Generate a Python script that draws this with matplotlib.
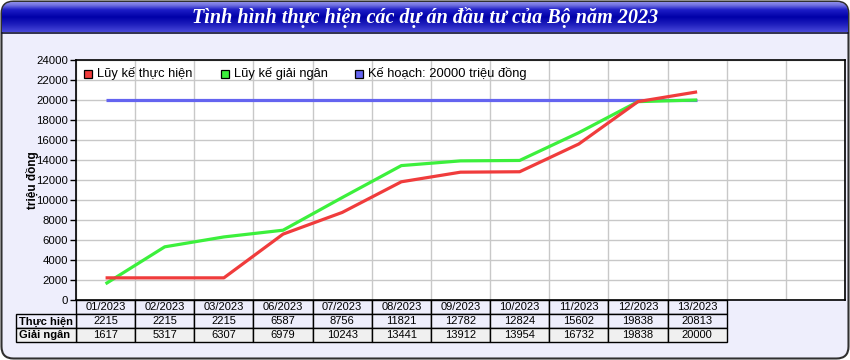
import numpy as np
import matplotlib
matplotlib.use("Agg")
import matplotlib.pyplot as plt
from matplotlib.patches import Rectangle, FancyBboxPatch
from matplotlib.transforms import blended_transform_factory

plt.rcParams['font.family'] = ['Liberation Sans', 'DejaVu Sans']

title = "Tình hình thực hiện các dự án đầu tư của Bộ năm 2023"
months = ["01/2023", "02/2023", "03/2023", "06/2023", "07/2023", "08/2023",
          "09/2023", "10/2023", "11/2023", "12/2023", "13/2023"]
thuc_hien = [2215, 2215, 2215, 6587, 8756, 11821, 12782, 12824, 15602, 19838, 20813]
giai_ngan = [1617, 5317, 6307, 6979, 10243, 13441, 13912, 13954, 16732, 19838, 20000]
ke_hoach = 20000
series_names = ["Lũy kế thực hiện", "Lũy kế giải ngân", "Kế hoạch: 20000 triệu đồng"]
row_labels = ["Thực hiện", "Giải ngân"]
y_label = "triệu đồng"

W, H = 850, 360
fig = plt.figure(figsize=(8.5, 3.6), dpi=100)

# background axes in pixel coords
bg = fig.add_axes([0, 0, 1, 1], zorder=0)
bg.set_xlim(0, W)
bg.set_ylim(H, 0)
bg.axis('off')
fig.patch.set_alpha(0)

outer = FancyBboxPatch((1.5, 1.5), W - 3, H - 3,
                       boxstyle="round,pad=0,rounding_size=12",
                       facecolor="#eeeefc", edgecolor="#303030", linewidth=1.5)
bg.add_patch(outer)

# title bar gradient
grad_stops_y = [0, 3, 8, 16, 24, 32]
grad_cols = [(0.55, 0.55, 0.92), (0.45, 0.45, 0.88), (0.12, 0.12, 0.78),
             (0.0, 0.0, 0.66), (0.12, 0.12, 0.74), (0.28, 0.28, 0.85)]
ys = np.linspace(0, 32, 64)
img = np.zeros((64, 1, 3))
for c in range(3):
    img[:, 0, c] = np.interp(ys, grad_stops_y, [g[c] for g in grad_cols])
tb_clip = FancyBboxPatch((2, 2), W - 4, 40,
                         boxstyle="round,pad=0,rounding_size=11",
                         facecolor='none', edgecolor='none')
bg.add_patch(tb_clip)
im = bg.imshow(img, extent=(2, W - 2, 32, 2), aspect='auto', zorder=1)
im.set_clip_path(tb_clip)
bg.plot([2, W - 2], [32.5, 32.5], color="#101030", linewidth=1.2, zorder=2)
bg.text(W / 2, 17.5, title, color='white', fontsize=14.5, fontstyle='italic',
        fontweight='bold', family=['Liberation Serif', 'DejaVu Serif'],
        ha='center', va='center', zorder=3)

# main axes
L, R, T, B = 76, 845, 60, 300
ax = fig.add_axes([L / W, 1 - B / H, (R - L) / W, (B - T) / H], zorder=2)
ax.set_facecolor('white')
x = np.arange(len(months))
ax.plot([x[0], x[-1]], [ke_hoach, ke_hoach], color="#6464f0", linewidth=2.3, solid_capstyle='butt')
ax.plot(x, giai_ngan, color="#3cf03c", linewidth=2.3, solid_capstyle='butt')
ax.plot(x, thuc_hien, color="#f03c3c", linewidth=2.3, solid_capstyle='butt')
ax.set_xlim(-0.5, 12.44)
ax.set_ylim(0, 24000)
ax.set_yticks(np.arange(0, 24001, 2000))
ax.set_xticks(np.arange(-0.5, 13, 1.0))
ax.tick_params(axis='x', length=0, labelbottom=False)
ax.tick_params(axis='y', length=4, width=1, labelsize=8.2, pad=1.5, color='black')
ax.grid(True, color="#c8c8c8", linewidth=1)
ax.set_axisbelow(True)
for s in ax.spines.values():
    s.set_color('black')
    s.set_linewidth(1.2)

# y label
bg.text(33, 180, y_label, rotation=90, fontsize=8.5, fontweight='bold',
        ha='center', va='center')

# legend (manual, drawn on the main axes in pixel coords)
leg_items = [(84, "#f03c3c"), (221, "#3cf03c"), (355, "#6464f0")]
for (lx, col), name in zip(leg_items, series_names):
    ax.add_patch(Rectangle((lx, 69.5), 8, 8, facecolor=col, edgecolor='black',
                           linewidth=0.9, zorder=5, transform=bg.transData))
    ax.text(lx + 13, 74, name, fontsize=9.3, ha='left', va='center', zorder=5,
            transform=bg.transData)

# data table
tr = blended_transform_factory(ax.transData, bg.transData)
rows_y = [300, 314, 328, 342]
row_fc = ["#eeeefc", "#eeeefc", "#f0f0f0"]
for i, m in enumerate(months):
    for r in range(3):
        bg.add_patch(Rectangle((i - 0.5, rows_y[r]), 1, rows_y[r + 1] - rows_y[r],
                               transform=tr, facecolor=row_fc[r], edgecolor='black',
                               linewidth=1, zorder=3, clip_on=False))
    vals = [m, str(thuc_hien[i]), str(giai_ngan[i])]
    for r, v in enumerate(vals):
        bg.text(i, (rows_y[r] + rows_y[r + 1]) / 2 + 0.5, v, transform=tr,
                fontsize=8, ha='center', va='center', zorder=4, clip_on=False)
for r, lab in enumerate(row_labels):
    bg.add_patch(Rectangle((16, rows_y[r + 1]), 60, 14, facecolor=row_fc[r + 1],
                           edgecolor='black', linewidth=1, zorder=3))
    bg.text(19, (rows_y[r + 1] + rows_y[r + 2]) / 2 + 0.5, lab, fontsize=8,
            fontweight='bold', ha='left', va='center', zorder=4)

fig.savefig("out.png", dpi=100)
